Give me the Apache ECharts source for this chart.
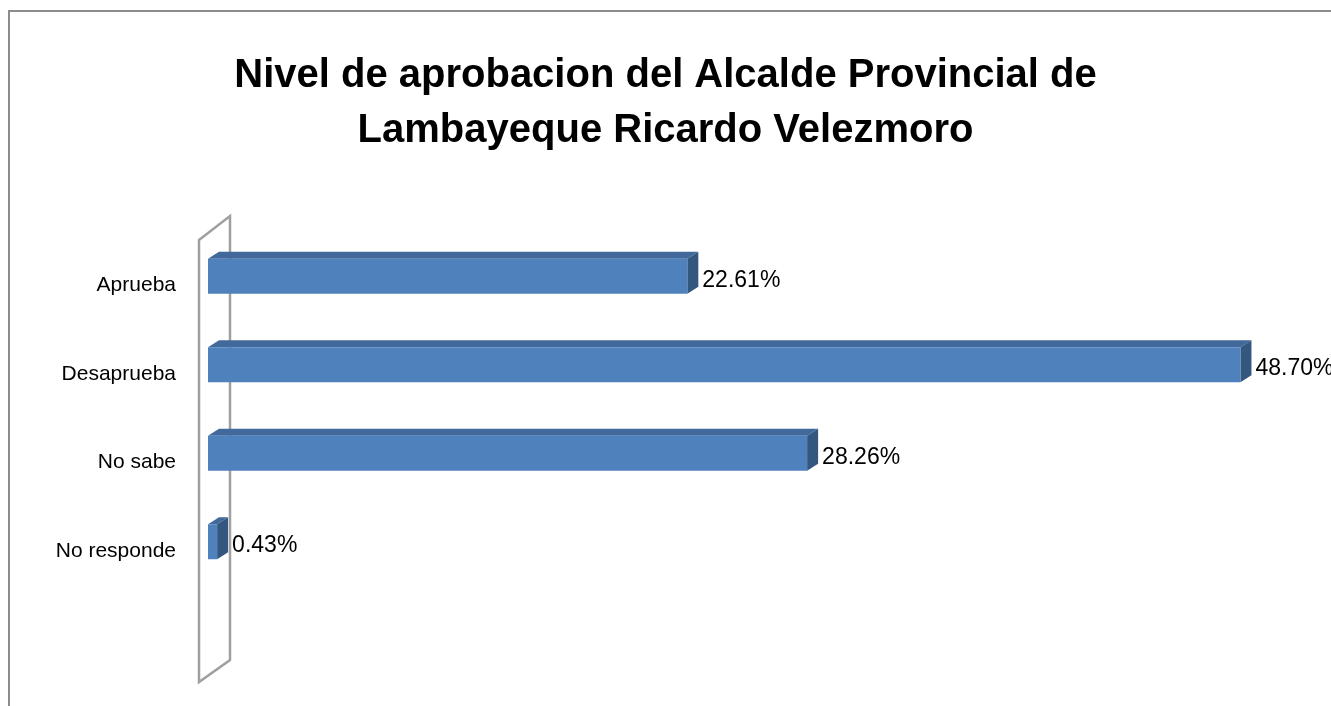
<!DOCTYPE html>
<html>
<head>
<meta charset="utf-8">
<script src="https://cdn.jsdelivr.net/npm/echarts@6/dist/echarts.min.js"></script>
<style>
  html, body { margin: 0; padding: 0; background: #fff; }
  #chart { width: 1331px; height: 706px; }
</style>
</head>
<body>
<div id="chart"></div>
<script>
// datos
var categories = ['Aprueba', 'Desaprueba', 'No sabe', 'No responde'];
var values = [22.61, 48.70, 28.26, 0.43];

var frontColor = '#4F81BD';
var topColor = '#41699C';
var sideColor = '#34577F';

var chart = echarts.init(document.getElementById('chart'));

var seriesData = [];
for (var i = 0; i < values.length; i++) {
    seriesData.push([values[i], i]);
}

function renderBar(params, api) {
    var p0 = api.coord([0, api.value(1)]);
    var p1 = api.coord([api.value(0), api.value(1)]);
    var h = 35, dx = 11, dy = -7;   // profundidad del efecto 3d
    var yt = p0[1] - h / 2, yb = yt + h;
    var x0 = p0[0], x1 = p1[0];
    return {
        type: 'group',
        children: [
            { type: 'polygon', shape: { points: [[x0, yt], [x1, yt], [x1 + dx, yt + dy], [x0 + dx, yt + dy]] }, style: { fill: topColor } },
            { type: 'polygon', shape: { points: [[x1, yt], [x1 + dx, yt + dy], [x1 + dx, yb + dy], [x1, yb]] }, style: { fill: sideColor } },
            { type: 'rect', shape: { x: x0, y: yt, width: x1 - x0, height: h }, style: { fill: frontColor } },
            {
                type: 'text', x: x1 + dx + 4, y: p0[1] + 4,
                style: { text: api.value(0).toFixed(2) + '%', fill: '#000', font: '23px "Liberation Sans", Arial, sans-serif', verticalAlign: 'middle' }
            }
        ]
    };
}

var option = {
    backgroundColor: '#fff',
    title: {
        text: 'Nivel de aprobacion del Alcalde Provincial de\nLambayeque Ricardo Velezmoro',
        left: 'center',
        top: 43,
        textStyle: {
            fontFamily: '"Liberation Sans", Arial, sans-serif',
            fontWeight: 'bold',
            fontSize: 40,
            lineHeight: 55,
            color: '#000'
        }
    },
    grid: {
        left: 208,
        right: 63,
        top: 232,
        bottom: 120
    },
    xAxis: {
        type: 'value',
        min: 0,
        max: 50,
        show: false
    },
    yAxis: {
        type: 'category',
        inverse: true,
        data: categories,
        axisLine: { show: false },
        axisTick: { show: false },
        axisLabel: {
            margin: 32,
            color: '#000',
            fontSize: 21,
            fontFamily: '"Liberation Sans", Arial, sans-serif',
            verticalAlign: 'top',
            lineHeight: 18
        }
    },
    graphic: [
        // marco
        { type: 'polyline', z: 0, shape: { points: [[9, 706], [9, 11], [1331, 11]] }, style: { stroke: '#8c8c8c', lineWidth: 2, fill: null } },
        // pared lateral
        { type: 'polygon', z: 0, shape: { points: [[199, 240], [230, 216], [230, 660], [199, 682]] }, style: { stroke: '#a0a0a0', lineWidth: 2.5, fill: null } }
    ],
    series: [{
        type: 'custom',
        z: 5,
        renderItem: renderBar,
        encode: { x: 0, y: 1 },
        data: seriesData
    }]
};

chart.setOption(option);
</script>
</body>
</html>
